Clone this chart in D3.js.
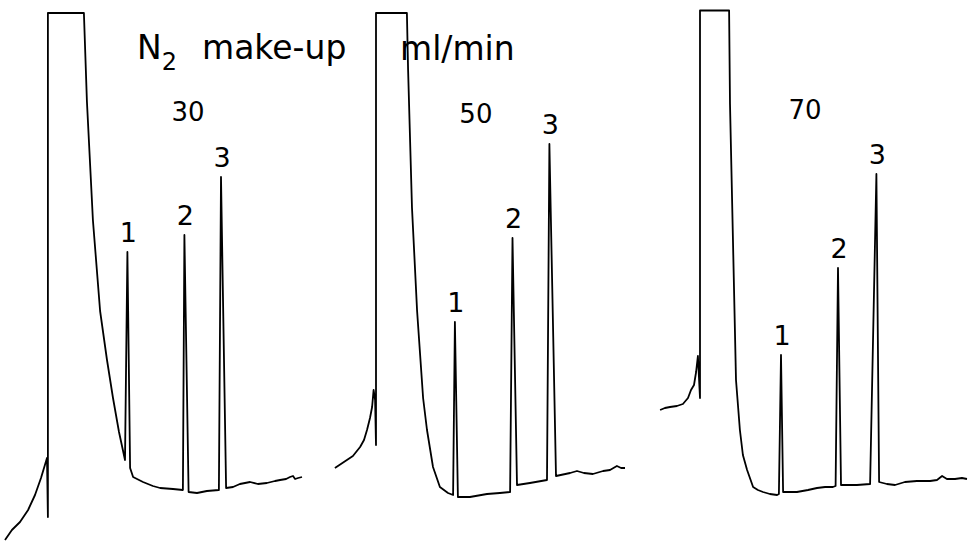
<!DOCTYPE html>
<html>
<head>
<meta charset="utf-8">
<script src="https://cdn.jsdelivr.net/npm/d3@7"></script>
<style>
  body { margin: 0; background: #fff; }
  svg { display: block; }
  .trace { fill: none; stroke: #000; stroke-width: 1.8; stroke-linejoin: round; }
  text { font-family: "DejaVu Sans", sans-serif; fill: #000; }
</style>
</head>
<body>
<div id="chart"></div>
<script>
// N2 make-up flow for each chromatogram (ml/min)
const flows = ["30", "50", "70"];

// Detector traces: [time after injection (min), response (% of full scale)]
const trace30 = [
  [-1.4, 0], [-1.17, 2], [-0.9, 3.6], [-0.63, 6], [-0.4, 9], [-0.2, 12.4], [-0.07, 15], [0, 16.4],
  [0.03, 4.6], [0.03, 105.4], [1.23, 105.4], [1.33, 87.8], [1.53, 64], [1.77, 45.8], [2.0, 36],
  [2.2, 28.4], [2.4, 21.6], [2.6, 16], [2.68, 57.6], [2.77, 14.4], [2.87, 12.6], [3.2, 11.6],
  [3.53, 10.8], [3.77, 10.4], [4.2, 10.2], [4.53, 10], [4.58, 61], [4.72, 9.6], [5.0, 9.4],
  [5.33, 9.8], [5.73, 10], [5.8, 72.6], [5.97, 10.4], [6.2, 10.6], [6.43, 11.2], [6.77, 11.6],
  [7.03, 11.2], [7.33, 11.4], [7.6, 11.8], [7.77, 12], [7.97, 12.2], [8.1, 12.6], [8.2, 12.8],
  [8.27, 12.2], [8.37, 12.4], [8.5, 12.6]
];
const trace50 = [
  [-1.37, 14.4], [-1.17, 15.2], [-0.97, 16], [-0.77, 16.8], [-0.53, 18.6], [-0.4, 20], [-0.3, 22],
  [-0.2, 24.4], [-0.13, 26.6], [-0.08, 30], [-0.03, 28], [0, 19], [0, 105.4], [1.03, 105.4],
  [1.07, 94], [1.2, 66.4], [1.37, 45.8], [1.57, 28.4], [1.7, 22], [1.9, 14.6], [2.13, 10.6],
  [2.4, 9.4], [2.57, 9], [2.63, 43.6], [2.73, 8.6], [3.13, 8.6], [3.7, 9.2], [4.13, 9.4],
  [4.47, 9.6], [4.55, 60.4], [4.7, 11], [5.13, 11.4], [5.7, 12], [5.78, 79.2], [6.0, 12.8],
  [6.47, 13.4], [6.7, 13.8], [6.93, 13.4], [7.23, 13.2], [7.57, 13.8], [7.8, 14], [8.03, 14.8],
  [8.17, 14.4], [8.3, 14.4]
];
const trace70 = [
  [-1.33, 26], [-1.17, 26.4], [-1.0, 26.6], [-0.77, 26.8], [-0.57, 27.2], [-0.4, 28.4], [-0.3, 30],
  [-0.2, 31], [-0.13, 33.6], [-0.07, 36.8], [0, 28.4], [0, 105.9], [0.97, 105.9], [1.0, 87.2],
  [1.1, 59.6], [1.2, 32], [1.33, 22], [1.43, 17], [1.57, 14], [1.77, 10.6], [1.93, 10], [2.1, 9.6],
  [2.33, 9.2], [2.57, 9], [2.63, 9.2], [2.7, 37], [2.77, 9.6], [3.23, 9.6], [3.6, 10], [3.9, 10.4],
  [4.17, 10.6], [4.43, 10.6], [4.52, 10.8], [4.6, 54.4], [4.7, 11], [5.23, 11], [5.67, 11.2],
  [5.88, 73.2], [5.97, 11.6], [6.23, 11.2], [6.5, 11], [6.83, 11.6], [7.23, 11.8], [7.67, 11.8],
  [7.9, 12], [8.07, 12.8], [8.23, 12.2], [8.5, 12.2], [8.73, 12.4], [8.9, 12.2]
];

// Labelled peaks: [label, apex time, apex response]
const peaks30 = [["1", 2.68, 57.6], ["2", 4.58, 61], ["3", 5.8, 72.6]];
const peaks50 = [["1", 2.63, 43.6], ["2", 4.55, 60.4], ["3", 5.78, 79.2]];
const peaks70 = [["1", 2.7, 37], ["2", 4.6, 54.4], ["3", 5.88, 73.2]];

// Where the flow value is written in each panel: [time, response]
const flowLabelPos = [[4.7, 83.8], [3.33, 83.4], [3.5, 84.2]];

const width = 968;
const height = 543;

const svg = d3.select("#chart")
    .append("svg")
    .attr("width", width)
    .attr("height", height);

svg.append("rect").attr("width", width).attr("height", height).attr("fill", "#fff");

// Response scale shared by all three runs
const y = d3.scaleLinear()
    .domain([0, 100])
    .range([540, 40]);

// Injection point of each run on the page
const injectionX = [47, 376, 700];
const traces = [trace30, trace50, trace70];
const peaks = [peaks30, peaks50, peaks70];

traces.forEach((trace, i) => {
    const x = d3.scaleLinear()
        .domain([0, 10])
        .range([injectionX[i], injectionX[i] + 300]);

    const line = d3.line()
        .x(d => x(d[0]))
        .y(d => y(d[1]));

    const g = svg.append("g");

    g.append("path")
        .datum(trace)
        .attr("class", "trace")
        .attr("d", line);

    // peak numbers sit just above the apex
    g.selectAll(".peak-label")
        .data(peaks[i])
        .join("text")
        .attr("class", "peak-label")
        .attr("x", d => x(d[1]) + 1)
        .attr("y", d => y(d[2]) - 10)
        .attr("text-anchor", "middle")
        .style("font-size", "27px")
        .text(d => d[0]);

    g.append("text")
        .attr("x", x(flowLabelPos[i][0]))
        .attr("y", y(flowLabelPos[i][1]))
        .attr("text-anchor", "middle")
        .style("font-size", "26px")
        .text(flows[i]);
});

// Title: N2 make-up ... ml/min
const title = svg.append("text")
    .attr("x", 137)
    .attr("y", 59)
    .style("font-size", "33px");
title.append("tspan").text("N");
title.append("tspan")
    .attr("dy", 11)
    .style("font-size", "24px")
    .text("2");
title.append("tspan")
    .attr("x", 202)
    .attr("y", 59)
    .text("make-up");

svg.append("text")
    .attr("x", 400)
    .attr("y", 60)
    .style("font-size", "33px")
    .text("ml/min");
</script>
</body>
</html>
